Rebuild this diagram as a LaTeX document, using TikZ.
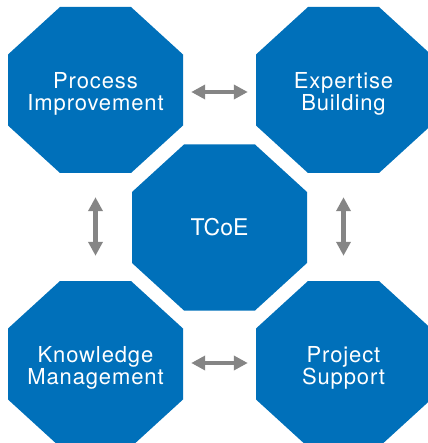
\documentclass[tikz,border=0pt]{standalone}
\usepackage{fontspec}
\setmainfont{TeX Gyre Heros}
\newfontfamily\lblfont[LetterSpace=4]{TeX Gyre Heros}
\usetikzlibrary{arrows.meta}
\definecolor{octblue}{HTML}{0070BA}
\definecolor{arrgray}{HTML}{858585}
\tikzset{
  octfill/.style={fill=octblue},
  lbl/.style={minimum width=175pt, minimum height=166pt, inner sep=0pt, align=center, text=white, yshift=-3.5pt, font=\lblfont\fontsize{22}{22}\selectfont},
  bigl/.style={minimum width=175pt, minimum height=166pt, inner sep=0pt, align=center, text=white, font=\fontsize{23}{24}\selectfont},
  arr/.style={draw=arrgray, line width=4.5pt, {Triangle[length=14pt,width=14pt]}-{Triangle[length=14pt,width=14pt]}}
}
\newcommand\octo[4]{%
  \fill[octfill, shift={(#2)}] (-35.5,-83) -- (35.5,-83) -- (87.5,-35.5) -- (87.5,35.5) -- (35.5,83) -- (-35.5,83) -- (-87.5,35.5) -- (-87.5,-35.5) -- cycle;
  \node[#4] (#1) at (#2) {#3};
}
\begin{document}
\begin{tikzpicture}[x=1pt, y=-1pt]
\useasboundingbox (0,0) rectangle (427,443);
\octo{pi}{95.5,90}{Process\\Improvement}{lbl}
\octo{eb}{343.5,90}{Expertise\\Building}{lbl}
\octo{tc}{219.5,227.5}{TCoE}{bigl}
\octo{km}{95.5,364}{Knowledge\\Management}{lbl}
\octo{ps}{343.5,364}{Project\\Support}{lbl}
\draw[arr, shorten <=8pt, shorten >=8pt] ([yshift=1.5pt]pi.east) -- ([yshift=1.5pt]eb.west);
\draw[arr, shorten <=8pt, shorten >=8pt] ([yshift=4.5pt]km.east) -- ([yshift=4.5pt]ps.west);
\draw[arr, shorten <=24pt, shorten >=25pt] ([yshift=3.5pt]pi.south) -- ([yshift=3.5pt]km.north);
\draw[arr, shorten <=24pt, shorten >=25pt] ([yshift=3.5pt]eb.south) -- ([yshift=3.5pt]ps.north);
\end{tikzpicture}
\end{document}
